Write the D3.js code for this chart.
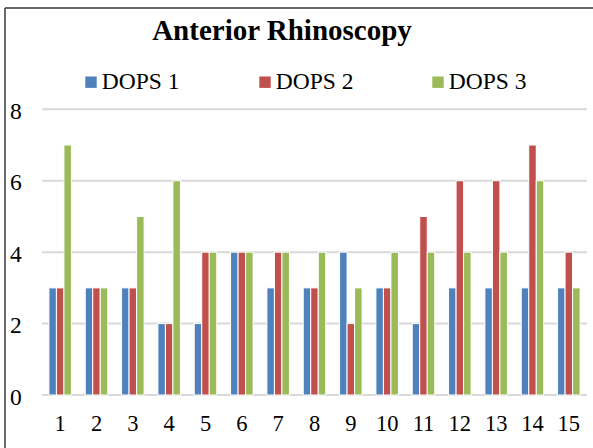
<!DOCTYPE html>
<html>
<head>
<meta charset="utf-8">
<script src="https://cdn.jsdelivr.net/npm/d3@7"></script>
<style>
  html, body { margin: 0; padding: 0; background: #fff; }
  svg { display: block; }
</style>
</head>
<body>
<svg id="chart" width="593" height="448" font-family="Liberation Serif"></svg>
<script>
const categories = ["1","2","3","4","5","6","7","8","9","10","11","12","13","14","15"];
const seriesNames = ["DOPS 1", "DOPS 2", "DOPS 3"];
const dops1 = [3,3,3,2,2,4,3,3,4,3,2,3,3,3,3];
const dops2 = [3,3,3,2,4,4,4,3,2,3,5,6,6,7,4];
const dops3 = [7,3,5,6,4,4,4,4,3,4,4,4,4,6,3];
const yTicks = [0,2,4,6,8];
const colors = ["#4F81BD", "#C0504D", "#9BBB59"];

const seriesValues = [dops1, dops2, dops3];
const FONT = "Liberation Serif";
const svg = d3.select("#chart");

// frame
svg.append("line").attr("x1", 5).attr("x2", 593).attr("y1", 8).attr("y2", 8)
  .attr("stroke", "#3a3a3a").attr("stroke-width", 1.5);
svg.append("line").attr("x1", 5).attr("x2", 5).attr("y1", 8).attr("y2", 448)
  .attr("stroke", "#3a3a3a").attr("stroke-width", 1.5);

const plotLeft = 42, plotRight = 587, plotTop = 109.3, plotBottom = 395;

const y = d3.scaleLinear().domain([0, 8]).range([plotBottom, plotTop]);
const x0 = d3.scaleBand().domain(categories).range([plotLeft, plotRight])
  .paddingInner(0.38).paddingOuter(0.19);
const x1 = d3.scaleBand().domain(seriesNames).range([0, x0.bandwidth()]);

// gridlines
svg.append("g").selectAll("line").data(yTicks).join("line")
  .attr("x1", plotLeft).attr("x2", plotRight)
  .attr("y1", d => y(d)).attr("y2", d => y(d))
  .attr("stroke", "#d9d9d9").attr("stroke-width", 2);

// y labels
svg.append("g").selectAll("text").data(yTicks).join("text")
  .attr("x", 10).attr("y", d => y(d) + 9.5)
  .attr("font-family", FONT).attr("font-size", 23.5)
  .text(d => d);

// bars
const groups = svg.append("g").selectAll("g").data(categories).join("g")
  .attr("transform", c => `translate(${x0(c)},0)`);
groups.selectAll("rect")
  .data((c, i) => seriesNames.map((s, k) => ({ s, k, v: seriesValues[k][i] })))
  .join("rect")
  .attr("x", d => x1(d.s))
  .attr("width", x1.bandwidth())
  .attr("y", d => y(d.v))
  .attr("height", d => y(0) - y(d.v))
  .attr("fill", d => colors[d.k])
  .attr("stroke", "#fff").attr("stroke-width", 1);

// x labels
svg.append("g").selectAll("text").data(categories).join("text")
  .attr("x", c => x0(c) + x0.bandwidth() / 2)
  .attr("y", 431)
  .attr("text-anchor", "middle")
  .attr("font-family", FONT).attr("font-size", 22.5)
  .text(c => c);

// title
svg.append("text").attr("x", 282).attr("y", 40)
  .attr("text-anchor", "middle")
  .attr("font-family", FONT).attr("font-size", 29).attr("font-weight", "bold")
  .text("Anterior Rhinoscopy");

// legend
const legendX = [85.3, 259.3, 432.3];
const leg = svg.append("g").selectAll("g").data(seriesNames).join("g")
  .attr("transform", (d, i) => `translate(${legendX[i]},0)`);
leg.append("rect").attr("x", 0).attr("y", 76.5).attr("width", 11.4).attr("height", 11.4)
  .attr("fill", (d, i) => colors[i]);
leg.append("text").attr("x", 16.4).attr("y", 89.3)
  .attr("font-family", FONT).attr("font-size", 23.5).text(d => d);
</script>
</body>
</html>
